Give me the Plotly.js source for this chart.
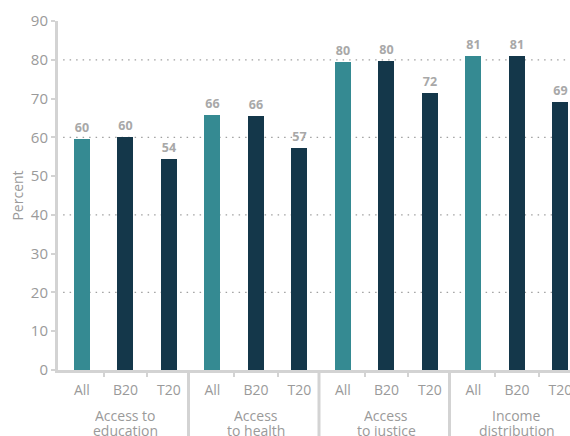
<!DOCTYPE html>
<html>
<head>
<meta charset="utf-8">
<script src="https://cdn.plot.ly/plotly-3.0.1.min.js"></script>
<style>html,body{margin:0;padding:0;background:#fff;}#chart{width:570px;height:436px;}</style>
</head>
<body>
<div id="chart"></div>
<script>
const groups = ["Access to<br>education", "Access<br>to health", "Access<br>to justice", "Income<br>distribution"];
const subgroups = ["All", "B20", "T20"];
const values = [59.6, 60.2, 54.3, 65.8, 65.6, 57.2, 79.5, 79.7, 71.5, 81.0, 81.0, 69.2];
const valueLabels = ["60", "60", "54", "66", "66", "57", "80", "80", "72", "81", "81", "69"];
const yTicks = [0, 10, 20, 30, 40, 50, 60, 70, 80, 90];
const gridValues = [20, 40, 60, 80];

const teal = "#358a92", navy = "#14374a", gray = "#9a9a9a", axisGray = "#d3d3d3";
const font = "'Open Sans', sans-serif";

const xs = [], tickText = [], colors = [];
groups.forEach((g, gi) => subgroups.forEach((s, si) => {
  xs.push(gi * subgroups.length + si);
  tickText.push(s);
  colors.push(s === "All" ? teal : navy);
}));

const trace = {
  type: "bar", x: xs, y: values, width: 0.367,
  marker: {color: colors},
  text: valueLabels, textposition: "outside", cliponaxis: false,
  textfont: {family: font, size: 12.5, color: "#a8a8a8", weight: 700},
  hoverinfo: "skip"
};

const shapes = [];
gridValues.forEach(v => shapes.push({
  type: "line", xref: "paper", x0: 0.01, x1: 1, yref: "y", y0: v, y1: v,
  line: {color: "#a0a0a0", width: 1.2, dash: "1.5px,5px"}, layer: "below"
}));
for (let gi = 1; gi < groups.length; gi++) {
  const xv = gi * subgroups.length - 0.55;
  shapes.push({type: "line", xref: "x", x0: xv, x1: xv, yref: "paper", y0: 0, y1: -0.2,
    line: {color: axisGray, width: 3}});
}
const minorVals = [];
for (let gi = 0; gi < groups.length; gi++) for (let si = 0; si < subgroups.length - 1; si++) minorVals.push(gi * subgroups.length + si + 0.5);

const annotations = [];
groups.forEach((g, gi) => g.split("<br>").forEach((line, li) => annotations.push({
  xref: "x", yref: "paper", x: gi * subgroups.length + 1, y: -0.129 - li * 0.043, yanchor: "middle",
  height: 14, borderpad: 0,
  text: line, showarrow: false, font: {family: font, size: 14, color: gray}
})));

const layout = {
  width: 570, height: 436,
  margin: {l: 58, r: 0, t: 21, b: 66},
  paper_bgcolor: "#fff", plot_bgcolor: "#fff",
  showlegend: false, bargap: 0,
  font: {family: font, color: gray},
  xaxis: {
    range: [-0.55, 11.22], tickmode: "array", tickvals: xs, ticktext: tickText,
    ticks: "", showgrid: false, zeroline: false, ticklabeloverflow: "allow",
    ticklabelstandoff: 5,
    showline: true, linecolor: axisGray, linewidth: 3,
    tickfont: {family: font, size: 14, color: gray},
    minor: {tickmode: "array", tickvals: minorVals, ticks: "outside", ticklen: 4, tickwidth: 2, tickcolor: axisGray, showgrid: false}
  },
  yaxis: {
    range: [0, 90], tickmode: "array", tickvals: yTicks,
    ticks: "outside", ticklen: 4, tickwidth: 2, tickcolor: axisGray,
    showgrid: false, zeroline: false,
    showline: true, linecolor: axisGray, linewidth: 3,
    tickfont: {family: font, size: 15, color: gray},
    title: {text: "Percent", font: {family: font, size: 14, color: gray}, standoff: 4}
  },
  shapes: shapes, annotations: annotations
};

Plotly.newPlot("chart", [trace], layout, {displayModeBar: false, staticPlot: true});
</script>
</body>
</html>
